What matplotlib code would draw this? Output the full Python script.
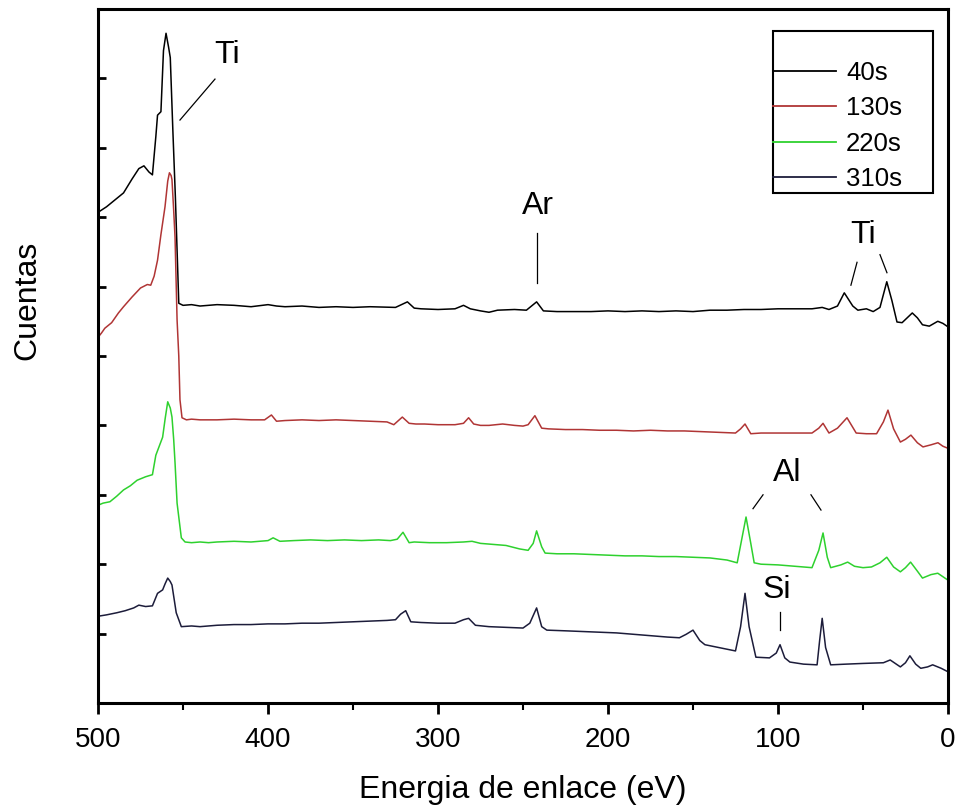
import numpy as np
import matplotlib.pyplot as plt
from matplotlib.patches import Rectangle

plt.rcParams['font.family'] = ['Liberation Sans', 'DejaVu Sans']

# binding energy (eV) and counts (arbitrary, offset spectra)
e_40 = [500, 495, 490, 485, 480, 476, 473, 470, 468, 466, 465, 463, 461.5, 460, 458.5,
        457.5, 456, 454.5, 452.5, 450, 445, 440, 430, 420, 410, 400, 395, 390, 380, 370,
        360, 350, 340, 325, 318, 314, 310, 300, 290, 285, 281, 275, 270, 265, 255, 248,
        242, 238, 230, 220, 210, 200, 190, 180, 170, 160, 150, 140, 130, 120, 110, 100,
        90, 80, 74, 70, 65, 61, 56, 53, 48, 44, 40, 36, 33, 30, 27, 24, 21, 18, 15, 11,
        6, 3, 0]
c_40 = [7.07, 7.15, 7.25, 7.35, 7.55, 7.70, 7.74, 7.65, 7.61, 8.16, 8.47, 8.52, 9.40, 9.65, 9.45,
        9.30, 8.26, 7.29, 5.76, 5.73, 5.74, 5.72, 5.74, 5.73, 5.71, 5.74, 5.72, 5.71, 5.72, 5.70,
        5.71, 5.70, 5.71, 5.70, 5.78, 5.69, 5.68, 5.67, 5.68, 5.73, 5.68, 5.65, 5.63, 5.66, 5.67, 5.66,
        5.78, 5.65, 5.64, 5.64, 5.64, 5.65, 5.64, 5.65, 5.64, 5.65, 5.64, 5.66, 5.66, 5.67, 5.67, 5.68,
        5.68, 5.68, 5.70, 5.67, 5.72, 5.91, 5.72, 5.66, 5.68, 5.64, 5.70, 6.07, 5.80, 5.49, 5.48, 5.55,
        5.62, 5.55, 5.45, 5.43, 5.50, 5.47, 5.42]

e_130 = [500, 498, 496, 492, 488, 485, 480, 475, 471, 469, 467, 465, 463, 460.6, 459,
         458, 457, 456.5, 455.5, 454.7, 453.5, 452.5, 451.8, 450.6, 448, 445, 440, 430, 420, 410,
         402, 398, 395, 390, 380, 370, 360, 350, 340, 330, 326, 321, 317, 313, 308, 300,
         290, 285, 282, 279, 275, 270, 262, 255, 250, 247, 243, 239, 235, 225, 215, 205,
         195, 185, 175, 165, 155, 145, 135, 125, 122, 119.4, 116, 110, 100, 90, 80, 76,
         73.5, 70, 65, 59.4, 54, 48, 42, 38, 35.3, 32, 28, 25, 21.8, 18, 14.7, 10, 5.9, 3, 0]
c_130 = [5.27, 5.33, 5.40, 5.48, 5.62, 5.71, 5.85, 5.98, 6.03, 6.02, 6.15, 6.38, 6.75, 7.15, 7.52,
         7.64, 7.60, 7.54, 7.10, 6.71, 5.52, 5.00, 4.37, 4.11, 4.08, 4.09, 4.08, 4.08, 4.09, 4.08,
         4.08, 4.15, 4.06, 4.07, 4.08, 4.07, 4.08, 4.07, 4.06, 4.05, 4.01, 4.12, 4.03, 4.02, 4.02, 4.01,
         4.01, 4.03, 4.11, 4.02, 4.00, 4.00, 4.02, 4.00, 3.99, 4.01, 4.14, 3.96, 3.95, 3.94, 3.94, 3.93,
         3.93, 3.92, 3.93, 3.92, 3.92, 3.91, 3.90, 3.89, 3.95, 4.02, 3.88, 3.89, 3.89, 3.89, 3.89, 3.96,
         4.03, 3.89, 3.96, 4.11, 3.89, 3.88, 3.88, 4.05, 4.22, 3.95, 3.76, 3.80, 3.86, 3.75, 3.69, 3.72,
         3.75, 3.70, 3.67]

e_220 = [500, 497, 493, 489, 485, 481, 477, 472, 468, 466, 464, 462, 460.5, 459, 457.5,
         456.5, 455.5, 454.7, 453.5, 451, 448.8, 445, 440, 435, 430, 420, 410, 400, 397, 393,
         385, 375, 365, 355, 345, 335, 328, 324, 320.6, 317, 314, 305, 295, 285, 280, 275,
         270, 260, 252, 247, 244, 242, 239, 237, 230, 220, 210, 200, 190, 180, 170, 160,
         150, 140, 130, 124, 121, 118.8, 116, 114, 110, 100, 90, 80, 76, 73.5, 71, 69,
         63, 59, 55, 50, 45, 40, 36, 32, 28, 25, 22, 18, 15, 10, 6, 3, 0]
c_220 = [2.85, 2.88, 2.90, 2.98, 3.07, 3.13, 3.21, 3.26, 3.29, 3.57, 3.70, 3.83, 4.10, 4.34, 4.25,
         4.12, 3.80, 3.46, 2.88, 2.38, 2.32, 2.31, 2.32, 2.31, 2.32, 2.33, 2.32, 2.34, 2.38, 2.33,
         2.34, 2.35, 2.34, 2.35, 2.34, 2.35, 2.34, 2.36, 2.46, 2.31, 2.32, 2.31, 2.31, 2.32, 2.33, 2.30,
         2.29, 2.27, 2.22, 2.20, 2.30, 2.48, 2.25, 2.16, 2.15, 2.15, 2.14, 2.13, 2.12, 2.12, 2.11, 2.11,
         2.10, 2.09, 2.06, 2.02, 2.40, 2.68, 2.30, 2.02, 2.00, 1.99, 1.97, 1.95, 2.20, 2.45, 2.10, 1.95,
         1.99, 2.03, 1.97, 1.95, 1.96, 2.02, 2.10, 1.96, 1.89, 1.95, 2.03, 1.90, 1.80, 1.85, 1.87, 1.82,
         1.77]

e_310 = [500, 495, 489, 484, 479, 476, 472, 468, 465, 462, 460.5, 459, 457.5, 456.5, 454,
         451, 445, 440, 430, 420, 410, 400, 390, 380, 370, 360, 350, 340, 330, 325, 322,
         319, 316, 310, 300, 290, 285, 282, 278, 270, 260, 250, 246, 242, 239, 236, 225,
         215, 205, 195, 185, 175, 165, 158, 154, 150, 146, 143, 135, 125, 122, 119.4, 117,
         113, 105, 101, 98.8, 96, 93, 85, 77, 75.5, 74, 72, 69, 60, 50, 38, 34, 28, 25,
         22.4, 19, 16, 12, 9, 4, 0]
c_310 = [1.25, 1.27, 1.30, 1.33, 1.37, 1.41, 1.39, 1.40, 1.58, 1.63, 1.72, 1.80, 1.75, 1.70, 1.30,
         1.10, 1.11, 1.10, 1.12, 1.13, 1.13, 1.14, 1.14, 1.15, 1.15, 1.16, 1.17, 1.18, 1.19, 1.20, 1.28,
         1.33, 1.17, 1.16, 1.15, 1.15, 1.20, 1.22, 1.12, 1.10, 1.09, 1.08, 1.15, 1.37, 1.10, 1.05, 1.04,
         1.03, 1.02, 1.01, 0.99, 0.97, 0.95, 0.94, 0.99, 1.05, 0.90, 0.84, 0.80, 0.75, 1.10, 1.58, 1.10,
         0.66, 0.65, 0.72, 0.84, 0.65, 0.59, 0.56, 0.55, 0.90, 1.22, 0.80, 0.55, 0.56, 0.57, 0.58, 0.62,
         0.52, 0.58, 0.68, 0.56, 0.50, 0.52, 0.55, 0.50, 0.45]

series = [("40s", e_40, c_40, "#000000"),
          ("130s", e_130, c_130, "#b03535"),
          ("220s", e_220, c_220, "#2ed12e"),
          ("310s", e_310, c_310, "#1c1c3a")]

fig = plt.figure(figsize=(9.63, 8.10), dpi=100)
ax = fig.add_axes([0.1018, 0.1321, 0.8826, 0.8568])

for name, e, c, col in series:
    ax.plot(e, c, color=col, lw=1.1, label=name)

ax.set_xlim(500, 0)
ax.set_ylim(0, 10)
ax.set_xticks([500, 400, 300, 200, 100, 0])
ax.set_xticks([450, 350, 250, 150, 50], minor=True)
ax.set_yticks(np.arange(1, 10))
ax.set_yticklabels([])
ax.tick_params(axis='x', which='major', direction='out', length=8, width=2, labelsize=20, pad=9)
ax.tick_params(axis='x', which='minor', direction='out', length=5, width=1.5)
ax.tick_params(axis='y', direction='in', length=6, width=2)
for s in ax.spines.values():
    s.set_linewidth(2.2)

ax.set_xlabel("Energia de enlace (eV)", fontsize=23, labelpad=16)
ax.set_ylabel("Cuentas", fontsize=23)
ax.yaxis.set_label_coords(-0.066, 0.58)

# peak labels
fs = 23
ax.text(424.0, 9.34, "Ti", fontsize=fs, ha='center', va='center')
ax.plot([451.8, 431.2], [8.40, 8.99], color='k', lw=0.9)
ax.text(241.2, 7.16, "Ar", fontsize=fs, ha='center', va='center')
ax.plot([241.8, 241.8], [6.05, 6.77], color='k', lw=0.9)
ax.text(50.0, 6.74, "Ti", fontsize=fs, ha='center', va='center')
ax.plot([57.1, 53.5], [6.02, 6.35], color='k', lw=0.9)
ax.plot([40.0, 35.9], [6.46, 6.20], color='k', lw=0.9)
ax.text(94.7, 3.32, "Al", fontsize=fs, ha='center', va='center')
ax.plot([114.7, 108.8], [2.80, 3.00], color='k', lw=0.9)
ax.plot([80.6, 74.7], [3.00, 2.78], color='k', lw=0.9)
ax.text(100.6, 1.63, "Si", fontsize=fs, ha='center', va='center')
ax.plot([98.8, 98.8], [1.05, 1.31], color='k', lw=0.9)

# legend box drawn separately so the entries can sit flush with its left edge
ax.add_patch(Rectangle((0.794, 0.735), 0.188, 0.233, transform=ax.transAxes,
                       fill=False, edgecolor='k', lw=1.5, zorder=5))
leg = ax.legend(loc='upper left', bbox_to_anchor=(0.794, 0.925), fontsize=18.5,
                frameon=False, handlelength=2.45, handletextpad=0.4,
                labelspacing=0.44, borderpad=0, borderaxespad=0)
for line in leg.get_lines():
    line.set_linewidth(1.3)

fig.savefig("out.png", dpi=100)
